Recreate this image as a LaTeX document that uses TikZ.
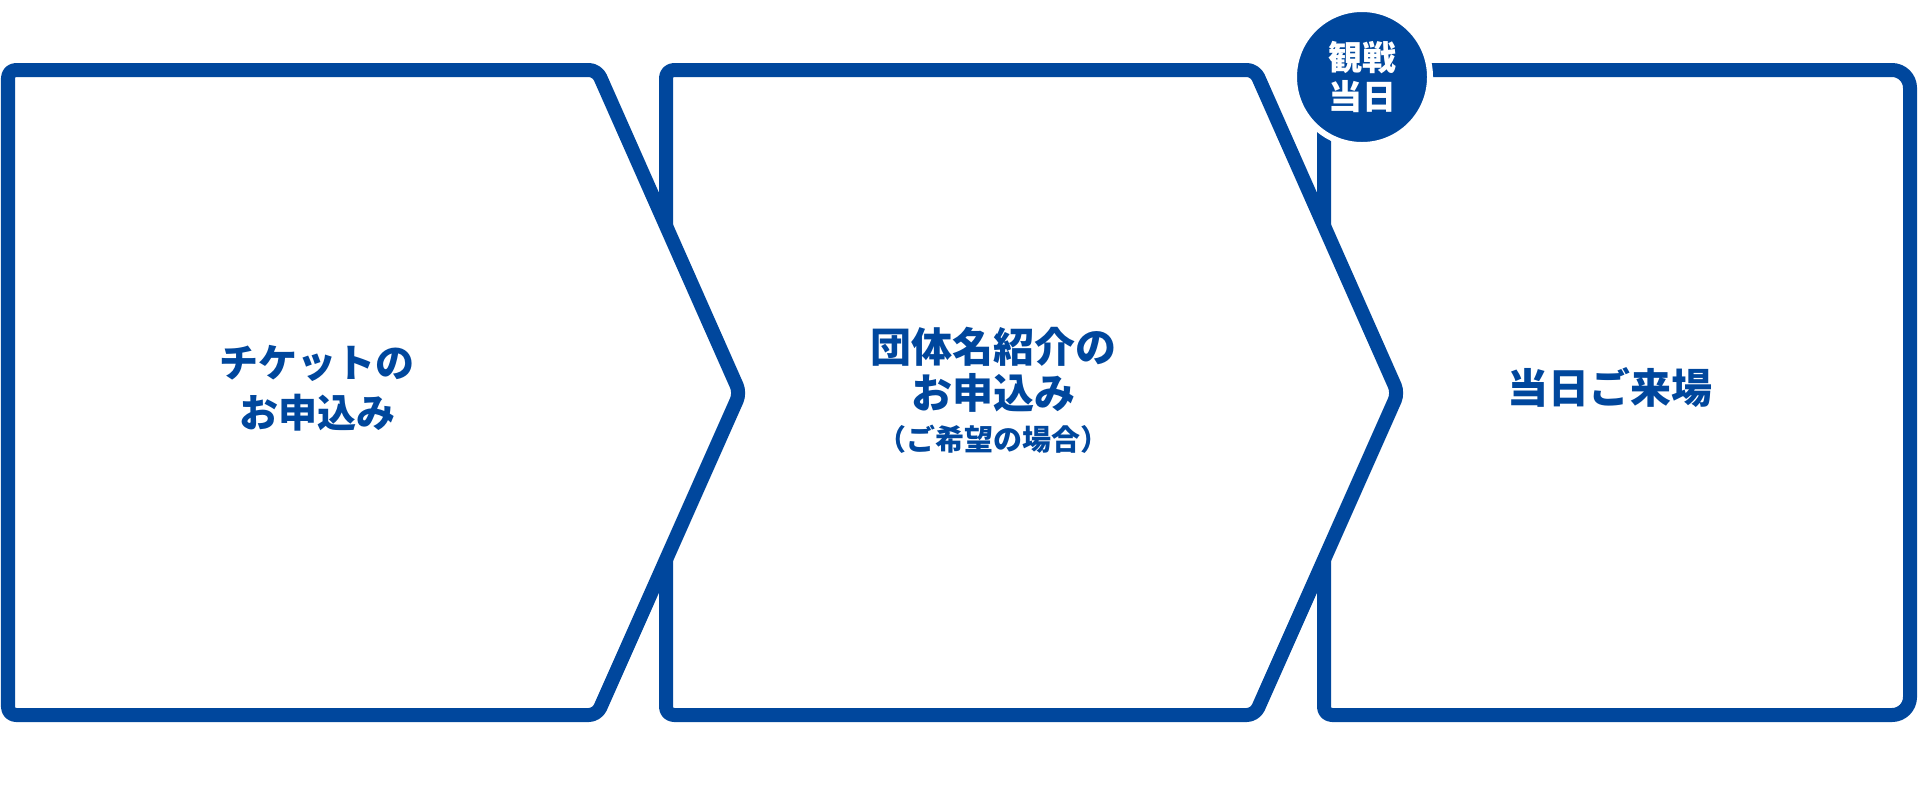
\documentclass[tikz,border=0pt]{standalone}
\usepackage{fontspec}
\newfontfamily\jp{Noto Sans CJK JP}[BoldFont={Noto Sans CJK JP Black}]
\usetikzlibrary{positioning}
\definecolor{flowblue}{HTML}{00479D}
\tikzset{
  stage/.style={draw=flowblue, line width=7pt, fill=white, rounded corners=4pt, line join=round},
  stagetext/.style={text=flowblue, inner sep=0pt, align=center, font=\jp\bfseries\fontsize{20.5pt}{25pt}\selectfont},
  subtext/.style={text=flowblue, inner sep=0pt, font=\jp\bfseries\fontsize{14.5pt}{17pt}\selectfont},
  badge/.style={circle, fill=flowblue, draw=white, line width=3pt, inner sep=0pt, minimum size=68pt,
    text=white, align=center, font=\jp\bfseries\fontsize{17pt}{19.5pt}\selectfont}
}
\begin{document}
\begin{tikzpicture}[x=0.5pt, y=-0.5pt]
                \useasboundingbox (0,0) rectangle (1920,810);

                % stages, drawn from the right so each arrow lies over the next box
                \draw [stage] (1324,70) [rounded corners=9pt] -- (1910,70) -- (1910,715) [rounded corners=4pt] -- (1324,715) -- cycle;
                \draw [stage] (666,70) -- (1255,70) -- (1398,393) -- (1255,715) -- (666,715) -- cycle;
                \draw [stage] (8,70) -- (597,70) -- (740,393) -- (597,715) -- (8,715) -- cycle;

                \node [badge] (day) at (1362,77) {観戦\\当日};

                \node [stagetext, font=\jp\bfseries\fontsize{19.5pt}{25pt}\selectfont] (ticket) at (317,388) {チケットの\\お申込み};
                \node [stagetext, font=\jp\bfseries\fontsize{20.5pt}{23pt}\selectfont] (group) at (993,370) {団体名紹介の\\お申込み};
                \node [subtext] (groupnote) at (993,439) {（ご希望の場合）};
                \node [stagetext] (visit) at (1610,388) {当日ご来場};

\end{tikzpicture}
\end{document}
